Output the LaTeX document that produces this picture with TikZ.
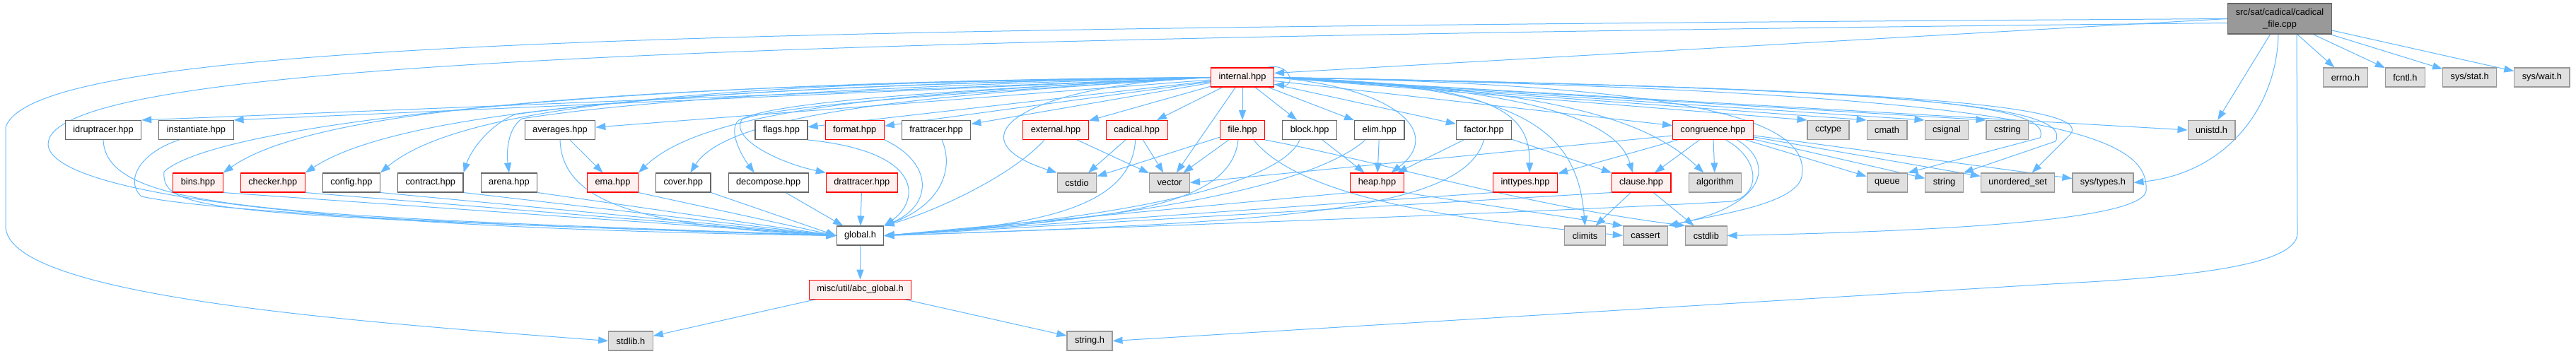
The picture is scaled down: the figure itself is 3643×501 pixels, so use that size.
\documentclass[tikz,border=0pt]{standalone}
\usepackage{fontspec}
\setmainfont{Liberation Sans}
\usetikzlibrary{positioning,arrows.meta,backgrounds}

\definecolor{edgeblue}{HTML}{63B8FF}
\definecolor{redfill}{HTML}{FFF0F0}
\definecolor{sysfill}{HTML}{E0E0E0}
\definecolor{sysline}{HTML}{999999}
\definecolor{boxline}{HTML}{666666}

\begin{document}
\begin{tikzpicture}[
  x=0.5pt, y=-0.5pt,
  node distance=12pt,
  hdr/.style={draw=boxline, fill=white, line width=0.55pt, minimum height=13.5pt,
    inner xsep=5.5pt, inner ysep=1pt, font=\fontsize{6.4pt}{8.5pt}\selectfont},
  hdrred/.style={hdr, draw=red, fill=redfill},
  syshdr/.style={hdr, draw=sysline, fill=sysfill},
  rootfile/.style={hdr, fill=sysline, align=center, minimum height=21.5pt},
  dep/.style={draw=edgeblue, line width=0.5pt, -{Triangle[length=7pt,width=5pt]}}
]
  \useasboundingbox (0,0) rectangle (3643,501);

  \node (src) [rootfile] at (3224,26.5) {src/sat/cadical/cadical\\\_file.cpp};

  \node (internal) [hdrred] at (1757,109.5) {internal.hpp};
  \node (errno) [syshdr] at (3317,109.5) {errno.h};
  \node (fcntl) [syshdr, right=of errno] {fcntl.h};
  \node (sysstat) [syshdr, right=of fcntl] {sys/stat.h};
  \node (syswait) [syshdr, right=of sysstat] {sys/wait.h};

  \node (idruptracer) [hdr] at (146,184) {idruptracer.hpp};
  \node (instantiate) [hdr, right=of idruptracer] {instantiate.hpp};
  \node (averages) [hdr] at (792,184) {averages.hpp};
  \node (flags) [hdr] at (1105,184) {flags.hpp};
  \node (format) [hdrred, right=of flags] {format.hpp};
  \node (frattracer) [hdr, right=of format] {frattracer.hpp};
  \node (external) [hdrred] at (1493,184) {external.hpp};
  \node (cadical) [hdrred, right=of external] {cadical.hpp};
  \node (file) [hdrred] at (1757,184) {file.hpp};
  \node (block) [hdr, right=of file] {block.hpp};
  \node (elim) [hdr, right=of block] {elim.hpp};
  \node (factor) [hdr] at (2098.5,184) {factor.hpp};
  \node (congruence) [hdrred] at (2422.5,184) {congruence.hpp};
  \node (cctype) [syshdr] at (2585.5,184) {cctype};
  \node (cmath) [syshdr, right=of cctype] {cmath};
  \node (csignal) [syshdr, right=of cmath] {csignal};
  \node (cstring) [syshdr, right=of csignal] {cstring};
  \node (unistd) [syshdr] at (3127.5,184) {unistd.h};

  \node (bins) [hdrred] at (280,258.5) {bins.hpp};
  \node (checker) [hdrred, right=of bins] {checker.hpp};
  \node (config) [hdr, right=of checker] {config.hpp};
  \node (contract) [hdr, right=of config] {contract.hpp};
  \node (arena) [hdr, right=of contract] {arena.hpp};
  \node (ema) [hdrred] at (866.5,258.5) {ema.hpp};
  \node (cover) [hdr, right=of ema] {cover.hpp};
  \node (decompose) [hdr, right=of cover] {decompose.hpp};
  \node (drattracer) [hdrred, right=of decompose] {drattracer.hpp};
  \node (cstdio) [syshdr] at (1523,258.5) {cstdio};
  \node (vector) [syshdr] at (1654,258.5) {vector};
  \node (heap) [hdrred] at (1947.5,258.5) {heap.hpp};
  \node (inttypes) [hdrred] at (2157,258.5) {inttypes.hpp};
  \node (clause) [hdrred] at (2321,258.5) {clause.hpp};
  \node (algorithm) [syshdr, right=of clause] {algorithm};
  \node (queue) [syshdr] at (2669,258.5) {queue};
  \node (string) [syshdr, right=of queue] {string};
  \node (uset) [syshdr, right=of string] {unordered\_set};
  \node (systypes) [syshdr, right=of uset] {sys/types.h};

  \node (global) [hdr] at (1216.5,333.5) {global.h};
  \node (climits) [syshdr] at (2241.5,333.5) {climits};
  \node (cassert) [syshdr, right=of climits] {cassert};
  \node (cstdlib) [syshdr, right=of cassert] {cstdlib};

  \node (abcglobal) [hdrred, below=24pt of global] {misc/util/abc\_global.h};
  \node (stdlibh) [syshdr] at (892,482.5) {stdlib.h};
  \node (stringh) [syshdr] at (1541,482.5) {string.h};

  \begin{scope}[on background layer]
  \draw[dep] (src.west) -- ([yshift=3pt]internal.east);
  \draw[dep] (src) -- (errno);
  \draw[dep] (src) -- (fcntl);
  \draw[dep] (src) -- (sysstat);
  \draw[dep] (src) -- (syswait);
  \draw[dep] (src) -- (unistd);
  \draw[dep] ([xshift=-1pt]src.south) .. controls (3220,150) and (3150,245) .. (systypes.east);
  \draw[dep] ([xshift=12pt]src.south) -- (3249,330) .. controls (3249,375) and (3100,392) .. (2900,402) -- (stringh.east);
  \draw[dep] ([yshift=-3pt]src.west) .. controls (1000,55) and (120,90) .. (70,195) .. controls (45,250) and (250,320) .. (global.west);
  \draw[dep] (src.west) .. controls (1000,40) and (50,55) .. (8,180) -- (8,320) .. controls (8,420) and (500,455) .. (stdlibh.west);

  \draw[dep] ([xshift=-5pt]internal.north east) .. controls (1825,88) and (1832,122) .. ([yshift=-5pt]internal.east);
  \draw[dep] (internal.west) -- (idruptracer.north east);
  \draw[dep] (internal.west) -- (instantiate.north east);
  \draw[dep] (internal) -- (averages);
  \draw[dep] (internal) -- (flags);
  \draw[dep] (internal) -- (format);
  \draw[dep] (internal) -- (frattracer);
  \draw[dep] (internal) -- (external);
  \draw[dep] (internal) -- (cadical);
  \draw[dep] (internal) -- (file);
  \draw[dep] (internal) -- (block);
  \draw[dep] (internal) -- (elim);
  \draw[dep] (internal) -- (factor);
  \draw[dep] (internal) -- (congruence);
  \draw[dep] (internal) -- (vector);
  \draw[dep] (internal.east) -- (cctype.north west);
  \draw[dep] (internal.east) -- (cmath.north west);
  \draw[dep] (internal.east) -- (csignal.north west);
  \draw[dep] (internal.east) -- (cstring.north west);
  \draw[dep] (internal.east) -- (unistd.west);
  \draw[dep] (internal.west) .. controls (900,120) and (450,150) .. (bins.north east);
  \draw[dep] (internal.west) .. controls (950,122) and (560,160) .. (checker.north east);
  \draw[dep] (internal.west) .. controls (1000,115) and (650,150) .. (config.north east);
  \draw[dep] (internal.west) .. controls (1100,120) and (850,145) .. (728,162) .. controls (690,178) and (665,215) .. (contract.north east);
  \draw[dep] (internal.west) .. controls (1100,125) and (850,150) .. (738,168) .. controls (718,182) and (716,215) .. (arena.north);
  \draw[dep] (internal.west) .. controls (1300,130) and (1000,150) .. (ema.north east);
  \draw[dep] (internal.west) .. controls (1300,135) and (1030,160) .. ([xshift=5pt]cover.north);
  \draw[dep] (internal.west) .. controls (1300,135) and (1100,150) .. (1045,170) .. controls (1030,182) and (1045,215) .. ([xshift=-10pt]decompose.north);
  \draw[dep] (internal.west) .. controls (1300,130) and (1100,145) .. (1050,168) .. controls (1030,195) and (1100,230) .. (drattracer.north west);
  \draw[dep] (internal.west) .. controls (1450,120) and (1340,195) .. (cstdio.north west);
  \draw[dep] (internal.east) .. controls (1980,125) and (2040,190) .. ([xshift=10pt]heap.north);
  \draw[dep] (internal.east) .. controls (2100,120) and (2164,150) .. ([xshift=3pt]inttypes.north);
  \draw[dep] (internal.east) .. controls (2150,120) and (2230,180) .. (climits.north);
  \draw[dep] (internal.east) .. controls (2200,125) and (2290,180) .. ([xshift=-6pt]clause.north);
  \draw[dep] (internal.east) .. controls (2200,125) and (2330,170) .. ([xshift=-8pt]algorithm.north);
  \draw[dep] (internal.east) .. controls (2450,120) and (2560,180) .. (2548,250) .. controls (2540,290) and (2420,305) .. (cassert.north east);
  \draw[dep] (internal.east) .. controls (2600,125) and (2910,140) .. (2885,195) -- (queue.north east);
  \draw[dep] (internal.east) .. controls (2650,125) and (2935,145) .. (2907,200) -- (string.north east);
  \draw[dep] (internal.east) .. controls (2700,125) and (2960,150) .. (2928,190) -- ([xshift=10pt]uset.north);
  \draw[dep] (internal.east) .. controls (2900,130) and (3040,190) .. (3035,270) .. controls (3030,315) and (2700,328) .. (cstdlib.east);
  \draw[dep] (internal.west) .. controls (800,115) and (300,180) .. (232,243) .. controls (228,300) and (300,305) .. (global.west);

  \draw[dep] (idruptracer.south) .. controls (150,300) and (400,305) .. (global.west);
  \draw[dep] ([xshift=-12pt]instantiate.south) .. controls (200,215) and (175,255) .. (200,278) .. controls (300,300) and (700,320) .. (global.west);
  \draw[dep] (bins.south east) -- (global.west);
  \draw[dep] (checker.south east) -- (global.west);
  \draw[dep] (config.south east) -- (global.west);
  \draw[dep] (contract.south east) -- (global.west);
  \draw[dep] (arena.south east) -- (global.west);
  \draw[dep] (averages) -- (ema);
  \draw[dep] (averages.south) .. controls (795,285) and (900,320) .. (global.west);
  \draw[dep] (ema.south east) -- (global.west);
  \draw[dep] (cover.south east) -- (global.west);
  \draw[dep] (decompose) -- (global);
  \draw[dep] (drattracer) -- (global);
  \draw[dep] (flags.south east) .. controls (1310,215) and (1300,285) .. (global.north east);
  \draw[dep] (format.south east) .. controls (1320,230) and (1320,290) .. (global.north east);
  \draw[dep] ([xshift=4pt]frattracer.south) .. controls (1350,240) and (1330,290) .. (global.north east);
  \draw[dep] ([xshift=-8pt]external.south) .. controls (1430,250) and (1320,300) .. (global.north east);
  \draw[dep] (external) -- (vector);
  \draw[dep] (cadical) -- (cstdio);
  \draw[dep] (cadical) -- (vector);
  \draw[dep] ([xshift=-1pt]cadical.south) .. controls (1600,300) and (1450,320) .. (global.east);
  \draw[dep] (file) -- (cstdio);
  \draw[dep] (file) -- (vector);
  \draw[dep] ([xshift=-3pt]file.south) .. controls (1740,300) and (1550,310) .. (global.east);
  \draw[dep] ([xshift=8pt]file.south) .. controls (1850,295) and (2150,318) .. (cassert.west);
  \draw[dep] (file.south east) .. controls (1960,230) and (2150,290) .. (cstdlib.north west);
  \draw[dep] ([xshift=-7pt]block.south) .. controls (1820,240) and (1700,300) .. (global.east);
  \draw[dep] (block) -- (heap);
  \draw[dep] ([xshift=-10pt]elim.south) .. controls (1890,235) and (1750,300) .. (global.east);
  \draw[dep] (elim) -- (heap);
  \draw[dep] (factor) -- (heap);
  \draw[dep] (factor) -- (clause);
  \draw[dep] (factor.south) .. controls (2070,300) and (1800,315) .. (global.east);
  \draw[dep] (heap.south west) -- (global.east);
  \draw[dep] (heap.south east) -- (cassert.north west);
  \draw[dep] (inttypes.south west) -- (global.east);
  \draw[dep] (clause.south west) -- (global.east);
  \draw[dep] (clause) -- (climits);
  \draw[dep] (clause) -- (cstdlib);
  \draw[dep] ([yshift=-4pt]congruence.west) -- (vector.east);
  \draw[dep] (congruence) -- (inttypes);
  \draw[dep] (congruence) -- (clause);
  \draw[dep] (congruence) -- (algorithm);
  \draw[dep] (congruence) -- (queue);
  \draw[dep] (congruence) -- (string);
  \draw[dep] (congruence) -- (uset);
  \draw[dep] (congruence) -- (systypes);
  \draw[dep] ([xshift=9pt]congruence.south) .. controls (2490,225) and (2490,275) .. (2450,285) .. controls (2200,300) and (1500,325) .. (global.east);
  \draw[dep] ([xshift=17pt]congruence.south) .. controls (2510,230) and (2500,290) .. (cassert.north east);

  \draw[dep] (global) -- (abcglobal);
  \draw[dep] (abcglobal) -- (stdlibh);
  \draw[dep] (abcglobal) -- (stringh);
  \end{scope}
\end{tikzpicture}
\end{document}
